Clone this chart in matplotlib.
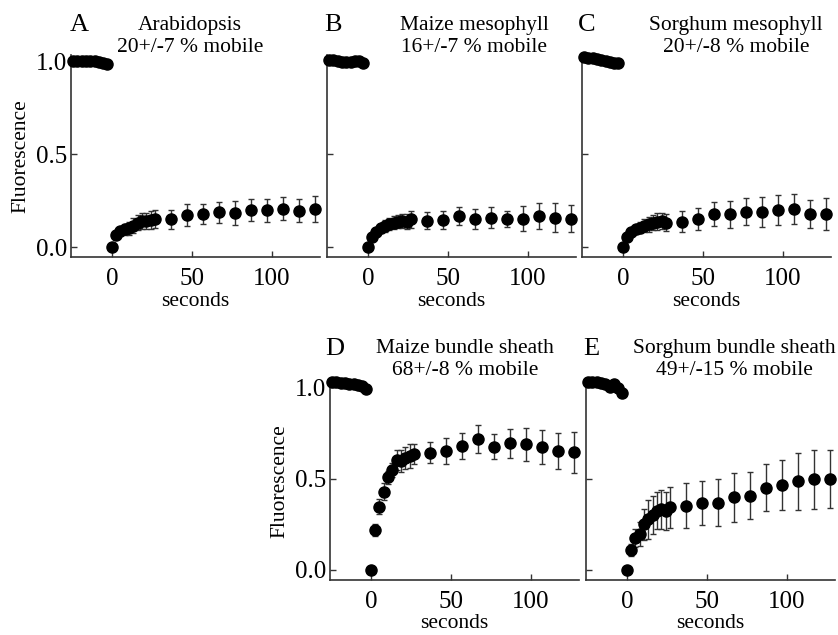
import numpy as np
import matplotlib
matplotlib.use('Agg')
import matplotlib.pyplot as plt

plt.rcParams['font.family'] = ['Liberation Serif', 'DejaVu Serif']

#Time points (seconds) before and after bleaching
pre_t = [-24.3, -21.6, -18.9, -16.2, -13.5, -10.8, -8.1, -5.4, -2.7]
post_t = [0, 2.7, 5.4, 8.1, 10.8, 13.5, 16.2, 18.9, 21.6, 24.3, 27,
          37, 47, 57, 67, 77, 87, 97, 107, 117, 127]

#Panel A - Arabidopsis
a_pre = [1.0, 1.0, 1.0, 1.0, 1.0, 0.998, 0.995, 0.99, 0.985]
a_post = [0, 0.065, 0.085, 0.095, 0.10, 0.115, 0.13, 0.14, 0.14, 0.145, 0.15,
          0.149, 0.172, 0.177, 0.186, 0.184, 0.199, 0.197, 0.206, 0.195, 0.204]
a_err = [0, 0.015, 0.025, 0.03, 0.035, 0.04, 0.04, 0.045, 0.045, 0.05, 0.05,
         0.05, 0.057, 0.054, 0.058, 0.065, 0.061, 0.061, 0.061, 0.063, 0.07]

#Panel B - Maize mesophyll
b_pre = [1.005, 1.005, 1.0, 0.995, 0.995, 0.995, 1.0, 1.0, 0.99]
b_post = [0, 0.052, 0.08, 0.10, 0.113, 0.124, 0.13, 0.136, 0.14, 0.136, 0.149,
          0.142, 0.144, 0.167, 0.151, 0.158, 0.151, 0.152, 0.167, 0.156, 0.152]
b_err = [0, 0.012, 0.02, 0.025, 0.03, 0.03, 0.035, 0.035, 0.04, 0.04, 0.045,
         0.044, 0.048, 0.049, 0.053, 0.058, 0.045, 0.067, 0.072, 0.078, 0.073]

#Panel C - Sorghum mesophyll
c_pre = [1.02, 1.015, 1.015, 1.01, 1.005, 1.0, 0.995, 0.99, 0.99]
c_post = [0, 0.055, 0.082, 0.095, 0.104, 0.113, 0.122, 0.131, 0.136, 0.14, 0.131,
          0.136, 0.149, 0.177, 0.175, 0.19, 0.19, 0.199, 0.204, 0.177, 0.175]
c_err = [0, 0.012, 0.02, 0.025, 0.03, 0.035, 0.04, 0.04, 0.045, 0.045, 0.045,
         0.055, 0.058, 0.064, 0.071, 0.073, 0.081, 0.079, 0.08, 0.076, 0.086]

#Panel D - Maize bundle sheath
d_pre = [1.03, 1.025, 1.02, 1.02, 1.015, 1.015, 1.01, 1.005, 0.99]
d_post = [0, 0.219, 0.346, 0.428, 0.506, 0.546, 0.601, 0.596, 0.61, 0.623, 0.634,
          0.641, 0.652, 0.679, 0.716, 0.674, 0.692, 0.687, 0.674, 0.65, 0.643]
d_err = [0, 0.033, 0.042, 0.045, 0.035, 0.04, 0.056, 0.06, 0.06, 0.064, 0.053,
         0.057, 0.071, 0.07, 0.077, 0.067, 0.08, 0.089, 0.093, 0.098, 0.112]

#Panel E - Sorghum bundle sheath
e_pre = [1.03, 1.03, 1.025, 1.02, 1.015, 1.0, 1.015, 0.995, 0.965]
e_post = [0, 0.109, 0.173, 0.197, 0.249, 0.278, 0.30, 0.324, 0.331, 0.324, 0.342,
          0.35, 0.364, 0.368, 0.397, 0.406, 0.45, 0.464, 0.486, 0.497, 0.497]
e_err = [0, 0.035, 0.05, 0.068, 0.087, 0.106, 0.106, 0.1, 0.105, 0.103, 0.114,
         0.123, 0.12, 0.127, 0.132, 0.13, 0.127, 0.135, 0.156, 0.161, 0.159]

letters = ['A', 'B', 'C', 'D', 'E']
names = ['Arabidopsis', 'Maize mesophyll', 'Sorghum mesophyll',
         'Maize bundle sheath', 'Sorghum bundle sheath']
mobile = ['20+/-7 % mobile', '16+/-7 % mobile', '20+/-8 % mobile',
          '68+/-8 % mobile', '49+/-15 % mobile']

W, H = 838, 635
fig = plt.figure(figsize=(W/100, H/100), dpi=100)

XMIN, XMAX = -25.5, 130
YMIN, YMAX = -0.054, 1.03

def px_axes(left, zero_y, yscale):
	#zero_y = pixel row of y=0, yscale = pixels per unit
	top = zero_y - YMAX*yscale
	bottom = zero_y - YMIN*yscale
	width = (XMAX - XMIN)*1.6
	return fig.add_axes([left/W, 1 - bottom/H, width/W, (bottom - top)/H])

#left spine pixel, zero row, scale, show y labels, letter pos, title x, title rows
layout = [
	(71, 247, 186, True, (79, 31), 190, (30, 52)),
	(327, 247, 186, False, (333, 31), 474, (30, 52)),
	(582, 247, 186, False, (587, 31), 736, (30, 52)),
	(330, 570, 183, True, (335, 355), 465, (353, 375)),
	(586, 570, 183, False, (591, 355), 734, (353, 375)),
]
pres = [a_pre, b_pre, c_pre, d_pre, e_pre]
posts = [a_post, b_post, c_post, d_post, e_post]
errs = [a_err, b_err, c_err, d_err, e_err]

for i in range(5):
	left, zero_y, ysc, ylab, lpos, tx, trows = layout[i]
	ax = px_axes(left, zero_y, ysc)
	ax.errorbar(post_t, posts[i], yerr=errs[i], fmt='none', ecolor='#333333',
		elinewidth=1, capsize=2.5, capthick=1, zorder=2, clip_on=False)
	ax.plot(post_t, posts[i], 'o', color='black', ms=8, zorder=3, clip_on=False)
	ax.plot(pre_t, pres[i], 'o', color='black', ms=8, zorder=3, clip_on=False)
	ax.set_xlim(XMIN, XMAX)
	ax.set_ylim(YMIN, YMAX)
	for s in ['top', 'right']:
		ax.spines[s].set_visible(False)
	for s in ['left', 'bottom']:
		ax.spines[s].set_color('#333333')
		ax.spines[s].set_linewidth(1.2)
	ax.set_xticks([0, 50, 100])
	ax.set_yticks([0, 0.5, 1.0])
	ax.tick_params(direction='in', length=4, width=1, color='#333333', labelsize=18)
	ax.tick_params(axis='x', pad=8)
	ax.tick_params(axis='y', pad=3)
	if ylab:
		ax.set_yticklabels(['0.0', '0.5', '1.0'])
		ax.set_ylabel('Fluorescence', fontsize=15.5, labelpad=4)
	else:
		ax.set_yticklabels([])
	ax.set_xlabel('seconds', fontsize=15.5, labelpad=1)
	fig.text(lpos[0]/W, 1 - lpos[1]/H, letters[i], fontsize=19, ha='center', va='baseline')
	fig.text(tx/W, 1 - trows[0]/H, names[i], fontsize=15.5, ha='center', va='baseline')
	fig.text(tx/W, 1 - trows[1]/H, mobile[i], fontsize=15.5, ha='center', va='baseline')

fig.savefig('out.png', dpi=100)
